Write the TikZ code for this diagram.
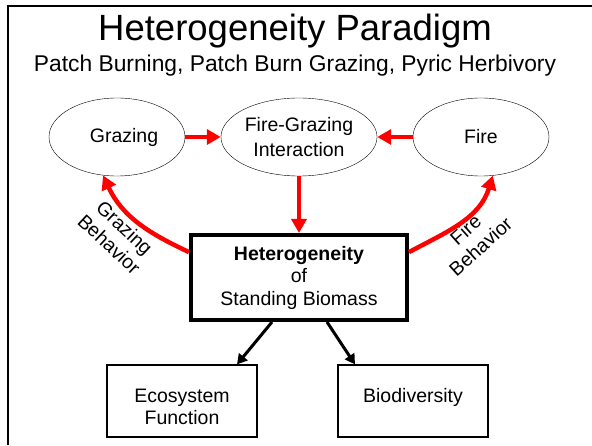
\documentclass[tikz,border=0pt]{standalone}
\usepackage{fontspec}
\setmainfont{Liberation Sans}
\usepackage{tikz}
\usetikzlibrary{shapes, arrows.meta}
\tikzstyle{oval} = [draw, ellipse, minimum width=136pt, minimum height=78pt, align=center, inner sep=1pt]
\tikzstyle{hetbox} = [draw, rectangle, line width=4pt, minimum width=216pt, minimum height=85pt, align=center]
\tikzstyle{outbox} = [draw, rectangle, line width=1.2pt, minimum width=150pt, minimum height=72pt, align=center, text height=33pt, text depth=31pt, inner sep=4pt]

\begin{document}
\begin{tikzpicture}[x=1pt, y=1pt, node distance=182pt, font=\fontsize{19.5}{22.5}\selectfont]
        % 样式
        \tikzstyle{redarrow} = [draw=red, line width=4.5pt, -{Triangle[length=14pt, width=15pt]}]
        \tikzstyle{blkarrow} = [draw, line width=3pt, -{Triangle[length=10pt, width=11pt]}]
        \tikzstyle{tag} = [align=center, inner sep=0pt]

        % 边框
        \useasboundingbox (0,0) rectangle (592,445);
        \draw [line width=2pt] (8,0) |- (592,439);

        % 标题
        \node [anchor=base, font=\fontsize{36.5}{40}\selectfont] (title) at (295,404) {Heterogeneity Paradigm};
        \node [anchor=base, font=\fontsize{22.8}{26}\selectfont] (subtitle) at (295,373) {Patch Burning, Patch Burn Grazing, Pyric Herbivory};

        % 放置节点
        \node [oval] (Graz) at (117,308) {\hspace*{14pt}Grazing};
        \node [oval, right of=Graz] (FG) {Fire-Grazing\\[2pt]Interaction};
        \node [oval, right of=FG] (Fire) {Fire};
        \node [hetbox, below of=FG, node distance=140.5pt] (Het) {\textbf{Heterogeneity}\\of\\Standing Biomass};
        \node [outbox, below of=Het, xshift=-117pt, node distance=123.5pt, text height=55.5pt, text depth=8.5pt] (Eco) {Ecosystem\\Function};
        \node [outbox, below of=Het, xshift=114pt, node distance=123.5pt] (Bio) {Biodiversity};
        \node [tag, rotate=-43] (gb) at (117,209) {Grazing\\Behavior};
        \node [tag, rotate=42] (fb) at (473,207) {Fire\\Behavior};

        \draw [redarrow] (Graz) -- (FG);
        \draw [redarrow] (Fire) -- (FG);
        \draw [redarrow] (FG) -- (Het);
        \draw [redarrow] (Het.167) to [out=155, in=-65] (Graz.-110);
        \draw [redarrow] (Het.13) to [out=28, in=-107] (Fire.-73);
        \draw [blkarrow] ([xshift=-27pt]Het.south) -- ([xshift=55pt]Eco.north);
        \draw [blkarrow] ([xshift=28pt]Het.south) -- ([xshift=-58pt]Bio.north);
\end{tikzpicture}
\end{document}
